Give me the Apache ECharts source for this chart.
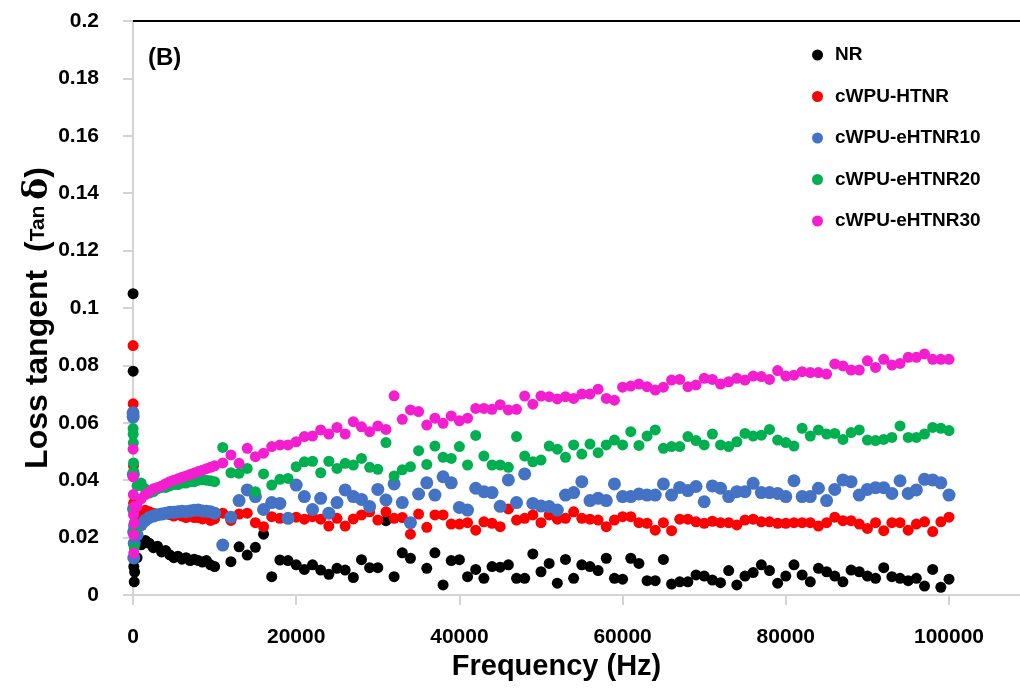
<!DOCTYPE html>
<html><head><meta charset="utf-8">
<script src="https://cdn.jsdelivr.net/npm/echarts@6/dist/echarts.min.js"></script>
<style>html,body{margin:0;padding:0;background:#fff}#c{width:1020px;height:689px}</style>
</head><body><div id="c"></div>
<script>
// Frequencies (Hz)
const freq = [10,20,40,60,80,100,150,200,
500,1000,1500,2000,2500,3000,3500,4000,4500,5000,5500,6000,6500,7000,7500,8000,8500,9000,9500,10000,
11000,12000,13000,14000,15000,16000,17000,18000,19000,20000,
21000,22000,23000,24000,25000,26000,27000,28000,29000,30000,
31000,32000,33000,34000,35000,36000,37000,38000,39000,40000,
41000,42000,43000,44000,45000,46000,47000,48000,49000,50000,
51000,52000,53000,54000,55000,56000,57000,58000,59000,60000,
61000,62000,63000,64000,65000,66000,67000,68000,69000,70000,
71000,72000,73000,74000,75000,76000,77000,78000,79000,80000,
81000,82000,83000,84000,85000,86000,87000,88000,89000,90000,
91000,92000,93000,94000,95000,96000,97000,98000,99000,100000];

const xTickValues = [0,20000,40000,60000,80000,100000];

const NR = [0.105,0.078,0.062,0.030,0.018,0.0099,0.0046,0.008,
0.013,0.0175,0.019,0.018,0.0165,0.017,0.015,0.0155,0.014,0.013,0.0135,0.0125,0.013,0.012,0.0125,0.012,0.0115,0.012,0.0105,0.0099,
null,0.0116,0.0168,0.0139,0.0166,0.0212,0.0064,0.0122,0.0120,0.0105,
0.0089,0.0105,0.0087,0.0072,0.0093,0.0087,0.0061,0.0123,0.0095,0.0095,
0.0259,0.0064,0.0147,0.0128,null,0.0093,0.0147,0.0035,0.0120,0.0123,
0.0064,0.0089,0.0058,0.0099,0.0097,0.0105,0.0058,0.0058,0.0143,0.0081,
0.0110,0.0041,0.0124,0.0058,0.0105,0.0099,0.0085,0.0128,0.0058,0.0055,
0.0128,0.0110,0.0050,0.0050,0.0124,0.0038,0.0046,0.0046,0.0070,0.0066,
0.0052,0.0043,0.0085,0.0035,0.0066,0.0078,0.0105,0.0085,0.0041,0.0066,
0.0105,0.0070,0.0046,0.0093,0.0081,0.0066,0.0046,0.0087,0.0081,0.0066,
0.0058,0.0095,0.0064,0.0058,0.0050,0.0058,0.0031,0.0089,0.0027,0.0055];

const HTNR = [0.0869,0.0666,0.0620,0.045,0.032,0.022,0.018,0.025,
0.026,0.029,0.0295,0.029,0.0285,0.028,0.028,0.0285,0.028,0.0275,0.028,0.0275,0.027,0.0275,0.027,0.027,0.0265,0.027,0.026,0.0265,
0.0285,0.0260,0.0282,0.0285,0.0252,0.0238,0.0273,0.0267,0.0267,0.0271,
0.0264,0.0273,0.0264,0.0240,0.0267,0.0240,0.0265,0.0279,0.0290,0.0261,
0.0290,0.0267,0.0270,0.0212,0.0282,0.0236,0.0279,0.0279,0.0247,0.0247,
0.0252,0.0226,0.0255,0.0250,0.0238,0.0300,0.0261,0.0267,0.0279,0.0252,
0.0279,0.0264,0.0267,0.0290,0.0267,0.0264,0.0261,0.0238,0.0261,0.0273,
0.0273,0.0252,0.0250,0.0226,0.0252,0.0224,0.0264,0.0264,0.0255,0.0250,
0.0257,0.0252,0.0252,0.0244,0.0261,0.0264,0.0255,0.0255,0.0250,0.0250,
0.0252,0.0252,0.0252,0.0240,0.0252,0.0271,0.0259,0.0259,0.0247,0.0232,
0.0252,0.0224,0.0252,0.0252,0.0226,0.0247,0.0255,0.0221,0.0255,0.0271];

const eHTNR10 = [0.0635,0.0620,0.042,0.030,0.022,0.0129,0.018,0.024,
0.021,0.0245,0.026,0.027,0.0275,0.028,0.0282,0.0285,0.0288,0.0288,0.029,0.0292,0.029,0.0293,0.0295,0.0296,0.0293,0.0292,0.029,0.0285,
0.0174,0.0271,0.0329,0.0366,0.0343,0.0298,0.0322,0.0319,0.0267,0.0383,
0.0343,0.0298,0.0337,0.0285,0.0322,0.0366,0.0343,0.0333,0.0308,0.0368,
0.0331,0.0387,0.0322,0.0252,0.0352,0.0391,0.0348,0.0412,0.0391,0.0305,
0.0296,0.0372,0.0360,0.0357,0.0309,0.0401,0.0322,0.0422,0.0319,0.0310,
0.0308,0.0296,0.0348,0.0357,0.0395,0.0329,0.0337,0.0329,0.0387,0.0343,
0.0343,0.0352,0.0348,0.0348,0.0387,0.0348,0.0375,0.0364,0.0378,0.0325,
0.0380,0.0372,0.0343,0.0360,0.0360,0.0389,0.0357,0.0357,0.0354,0.0343,
0.0398,0.0343,0.0343,0.0372,0.0329,0.0368,0.0401,0.0395,0.0348,0.0368,
0.0374,0.0374,0.0354,0.0398,0.0354,0.0366,0.0403,0.0401,0.0391,0.0348];

const eHTNR20 = [0.058,0.056,0.053,0.046,0.043,0.030,0.0164,0.0226,
0.038,0.039,0.037,0.0355,0.036,0.037,0.0375,0.0375,0.038,0.0385,0.0385,0.039,0.039,0.0395,0.0395,0.040,0.0402,0.040,0.0398,0.0395,
0.0514,0.0426,0.0424,0.0441,0.0360,0.0422,0.0383,0.0403,0.0406,0.0447,
0.0464,0.0466,0.0426,0.0466,0.0441,0.0459,0.0453,0.0476,0.0445,0.0438,
0.0531,0.0415,0.0436,0.0447,0.0503,0.0455,0.0519,0.0480,0.0476,0.0517,
0.0453,0.0556,0.0484,0.0453,0.0453,0.0445,0.0552,0.0484,0.0464,0.0470,
0.0519,0.0508,0.0480,0.0523,0.0491,0.0526,0.0496,0.0523,0.0540,0.0523,
0.0569,0.0521,0.0554,0.0575,0.0511,0.0517,0.0517,0.0552,0.0538,0.0523,
0.0561,0.0523,0.0517,0.0534,0.0563,0.0554,0.0557,0.0577,0.0540,0.0531,
0.0519,0.0581,0.0554,0.0575,0.0561,0.0563,0.0542,0.0566,0.0575,0.0540,
0.0538,0.0542,0.0549,0.0589,0.0549,0.0549,0.0561,0.0584,0.0581,0.0573];

const eHTNR30 = [0.0508,0.0412,0.035,0.028,0.021,0.0146,0.025,0.031,
0.031,0.0335,0.035,0.036,0.037,0.0375,0.038,0.0388,0.0395,0.040,0.0405,0.041,0.0415,0.042,0.0425,0.043,0.0435,0.044,0.0445,0.045,
0.0460,0.0488,0.0459,0.0511,0.0482,0.0494,0.0517,0.0523,0.0523,0.0534,
0.0552,0.0554,0.0575,0.0561,0.0584,0.0561,0.0604,0.0586,0.0569,0.0589,
0.0577,0.0694,0.0612,0.0645,0.0639,0.0592,0.0616,0.0598,0.0624,0.0607,
0.0616,0.0650,0.0650,0.0647,0.0663,0.0645,0.0647,0.0693,0.0665,0.0693,
0.0691,0.0683,0.0691,0.0685,0.0700,0.0700,0.0717,0.0685,0.0679,0.0724,
0.0728,0.0735,0.0726,0.0714,0.0724,0.0749,0.0751,0.0726,0.0732,0.0755,
0.0751,0.0735,0.0743,0.0755,0.0749,0.0763,0.0761,0.0751,0.0782,0.0763,
0.0766,0.0778,0.0775,0.0775,0.0770,0.0805,0.0798,0.0784,0.0784,0.0816,
0.0793,0.0821,0.0801,0.0807,0.0828,0.0828,0.0840,0.0821,0.0821,0.0821];

const seriesNames = ['NR','cWPU-HTNR','cWPU-eHTNR10','cWPU-eHTNR20','cWPU-eHTNR30'];
const seriesValues = [NR, HTNR, eHTNR10, eHTNR20, eHTNR30];

const colors = ['#000000','#FF0000','#4472C4','#00B050','#F21ECF'];
const sizes = [11,11,13,11,11];
const FONT = '"Liberation Sans", Arial, sans-serif';

function pairs(vals){
  const out = [];
  for (let i = 0; i < freq.length; i++) if (vals[i] != null) out.push([freq[i], vals[i]]);
  return out;
}

const chart = echarts.init(document.getElementById('c'), null, {renderer:'canvas'});
chart.setOption({
  animation: false,
  backgroundColor: '#fff',
  textStyle: {fontFamily: FONT},
  grid: {left: 133, right: 0, top: 21, bottom: 94, containLabel: false},
  legend: {
    orient: 'vertical', left: 807, top: 40, icon: 'circle',
    itemWidth: 25, itemHeight: 11, itemGap: 21.5,
    textStyle: {fontSize: 19, fontWeight: 'bold', color: '#000', lineHeight: 20, fontFamily: FONT},
    data: seriesNames
  },
  xAxis: [{
    type: 'value', min: 0, max: 108700, position: 'bottom',
    axisLine: {show: true, onZero: false, lineStyle: {color: '#d4d4d4', width: 2}},
    axisTick: {show: true, customValues: xTickValues, length: 10, lineStyle: {color: '#d4d4d4', width: 2}},
    axisLabel: {customValues: xTickValues, fontSize: 21, fontWeight: 'bold', color: '#000', margin: 32, fontFamily: FONT,
      formatter: function (v) { return String(v); }},
    splitLine: {show: false},
    name: 'Frequency (Hz)', nameLocation: 'middle', nameGap: 56,
    nameTextStyle: {fontSize: 29, fontWeight: 'bold', color: '#000', fontFamily: FONT, padding: [0, 40, 0, 0]}
  }, {
    type: 'value', min: 0, max: 108700, position: 'top',
    axisLine: {show: true, onZero: false, lineStyle: {color: '#000', width: 2}},
    axisTick: {show: false}, axisLabel: {show: false}, splitLine: {show: false}
  }],
  yAxis: {
    type: 'value', min: 0, max: 0.2, interval: 0.02,
    axisLine: {show: true, lineStyle: {color: '#d4d4d4', width: 2}},
    axisTick: {show: true, length: 10, lineStyle: {color: '#d4d4d4', width: 2}},
    axisLabel: {fontSize: 21, fontWeight: 'bold', color: '#000', margin: 34, fontFamily: FONT},
    splitLine: {show: false},
    name: '{a|Loss tangent  (}{b|Tan }{c|δ}{a|)}',
    nameLocation: 'middle', nameGap: 78, nameRotate: 90, nameMoveOverlap: false,
    nameTextStyle: {
      fontSize: 32, fontWeight: 'bold', color: '#000', fontFamily: FONT,
      padding: [0, 20, 0, 0],
      rich: {
        a: {fontSize: 32, fontWeight: 'bold', color: '#000', fontFamily: FONT},
        b: {fontSize: 21, fontWeight: 'bold', color: '#000', fontFamily: FONT},
        c: {fontSize: 33, color: '#000', fontFamily: '"DejaVu Serif", serif'}
      }
    }
  },
  graphic: [{
    type: 'text', left: 148, top: 46,
    style: {text: '(B)', fontSize: 24, fontWeight: 'bold', fill: '#000', font: 'bold 24px ' + FONT}
  }],
  series: seriesNames.map((n, i) => ({
    name: n, type: 'scatter', xAxisIndex: 0, yAxisIndex: 0,
    symbol: 'circle', symbolSize: sizes[i],
    itemStyle: {color: colors[i], opacity: 1},
    data: pairs(seriesValues[i])
  }))
});
</script>
</body></html>
